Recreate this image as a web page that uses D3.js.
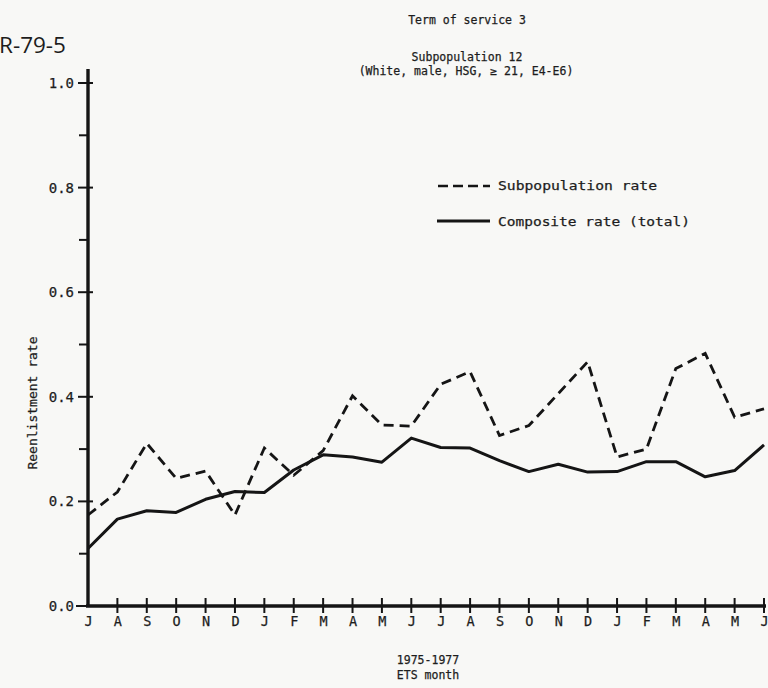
<!DOCTYPE html>
<html>
<head>
<meta charset="utf-8">
<script src="https://cdn.jsdelivr.net/npm/d3@7/dist/d3.min.js"></script>
<style>
  html, body { margin: 0; padding: 0; background: #f8f8f6; }
  svg { display: block; }
  text { fill: #1d1d1d; stroke: #1d1d1d; stroke-width: 0.25px; }
</style>
</head>
<body>
<svg id="chart" width="768" height="688"></svg>
<script>
// ---- data ----
const months = ["J","A","S","O","N","D","J","F","M","A","M","J","J","A","S","O","N","D","J","F","M","A","M","J"];
const subpopulationRate = [0.174,0.218,0.311,0.244,0.258,0.174,0.302,0.250,0.297,0.402,0.346,0.344,
                           0.424,0.448,0.326,0.345,0.406,0.467,0.285,0.300,0.454,0.483,0.361,0.377];
const compositeRate     = [0.110,0.166,0.182,0.179,0.204,0.219,0.217,0.260,0.289,0.285,0.275,0.321,
                           0.303,0.302,0.278,0.257,0.271,0.256,0.257,0.276,0.276,0.247,0.259,0.308];
const yMajorTicks = [0.0,0.2,0.4,0.6,0.8,1.0];
const yMinorTicks = [0.1,0.3,0.5,0.7,0.9];
const legendLabels = ["Subpopulation rate","Composite rate (total)"];
const titleLines = ["Term of service 3","Subpopulation 12","(White, male, HSG, \u2265 21, E4-E6)"];

// ---- drawing ----
const svg = d3.select("#chart");
const mono = "'DejaVu Sans Mono', 'Liberation Mono', monospace";
const ink = "#151515";

const x = d3.scaleLinear().domain([0, months.length - 1]).range([88, 764]);
const y = d3.scaleLinear().domain([0, 1]).range([606, 83]);

// report id
svg.append("text").attr("x", -1).attr("y", 53)
  .style("font-family", "'Open Sans', 'DejaVu Sans', sans-serif").style("font-size", "22.5px")
  .style("stroke-width", "0")
  .text("R-79-5");

// titles
svg.append("text").attr("x", 467).attr("y", 24).attr("text-anchor", "middle")
  .style("font-family", mono).style("font-size", "11.5px").text(titleLines[0]);
svg.append("text").attr("x", 467).attr("y", 61).attr("text-anchor", "middle")
  .style("font-family", mono).style("font-size", "11.5px").text(titleLines[1]);
svg.append("text").attr("x", 466).attr("y", 75).attr("text-anchor", "middle")
  .style("font-family", mono).style("font-size", "11.5px").text(titleLines[2]);

// axes (D3 axis used for labels)
const yAxis = d3.axisLeft(y).tickValues(yMajorTicks).tickFormat(d3.format(".1f")).tickSize(0).tickPadding(14);
const gy = svg.append("g").attr("transform", "translate(88,0)").call(yAxis);
gy.select(".domain").remove();
gy.selectAll("text").style("font-family", mono).style("font-size", "14px").attr("fill", "#1d1d1d");

const xAxis = d3.axisBottom(x).tickValues(d3.range(months.length)).tickFormat(i => months[i]).tickSize(0).tickPadding(10);
const gx = svg.append("g").attr("transform", "translate(0,606)").call(xAxis);
gx.select(".domain").remove();
gx.selectAll("text").style("font-family", mono).style("font-size", "13.5px").attr("fill", "#1d1d1d");

// axis lines
svg.append("line").attr("x1", 88).attr("x2", 88).attr("y1", 69).attr("y2", y(0) + 1)
  .attr("stroke", ink).attr("stroke-width", 3.4);
svg.append("line").attr("x1", 86).attr("x2", x(months.length - 1) + 2).attr("y1", y(0)).attr("y2", y(0))
  .attr("stroke", ink).attr("stroke-width", 3.4);

// y ticks
svg.selectAll(".ymaj").data(yMajorTicks.filter(d => d > 0)).enter().append("line")
  .attr("x1", 78).attr("x2", 93).attr("y1", d => y(d)).attr("y2", d => y(d))
  .attr("stroke", ink).attr("stroke-width", 2);
svg.append("line").attr("x1", 76).attr("x2", 88).attr("y1", y(0)).attr("y2", y(0))
  .attr("stroke", ink).attr("stroke-width", 2);
svg.selectAll(".ymin").data(yMinorTicks).enter().append("line")
  .attr("x1", 79).attr("x2", 88).attr("y1", d => y(d)).attr("y2", d => y(d))
  .attr("stroke", ink).attr("stroke-width", 2);

// x ticks
svg.selectAll(".xt").data(d3.range(1, months.length)).enter().append("line")
  .attr("x1", d => x(d)).attr("x2", d => x(d)).attr("y1", y(0) - 8).attr("y2", y(0) + 7)
  .attr("stroke", ink).attr("stroke-width", 2);

// lines
const line = d3.line().x((d, i) => x(i)).y(d => y(d));
svg.append("path").datum(compositeRate).attr("d", line)
  .attr("fill", "none").attr("stroke", ink).attr("stroke-width", 3).attr("stroke-linejoin", "round");
svg.append("path").datum(subpopulationRate).attr("d", line)
  .attr("fill", "none").attr("stroke", ink).attr("stroke-width", 2.8)
  .attr("stroke-dasharray", "10,6");

// legend
svg.append("line").attr("x1", 438).attr("x2", 490).attr("y1", 186).attr("y2", 186)
  .attr("stroke", ink).attr("stroke-width", 2.4).attr("stroke-dasharray", "10,5");
svg.append("line").attr("x1", 437).attr("x2", 490).attr("y1", 221).attr("y2", 221)
  .attr("stroke", ink).attr("stroke-width", 3.2);
svg.append("text").attr("x", 498).attr("y", 190).style("font-family", mono).style("font-size", "13px")
  .attr("textLength", 159).attr("lengthAdjust", "spacingAndGlyphs").text(legendLabels[0]);
svg.append("text").attr("x", 498).attr("y", 226).style("font-family", mono).style("font-size", "13px")
  .attr("textLength", 192).attr("lengthAdjust", "spacingAndGlyphs").text(legendLabels[1]);

// axis titles
svg.append("text").attr("transform", "translate(37,403) rotate(-90)").attr("text-anchor", "middle")
  .style("font-family", mono).style("font-size", "13px").text("Reenlistment rate");
svg.append("text").attr("x", 428).attr("y", 664).attr("text-anchor", "middle")
  .style("font-family", mono).style("font-size", "11.5px").text("1975-1977");
svg.append("text").attr("x", 428).attr("y", 679).attr("text-anchor", "middle")
  .style("font-family", mono).style("font-size", "11.5px").text("ETS month");
</script>
</body>
</html>
